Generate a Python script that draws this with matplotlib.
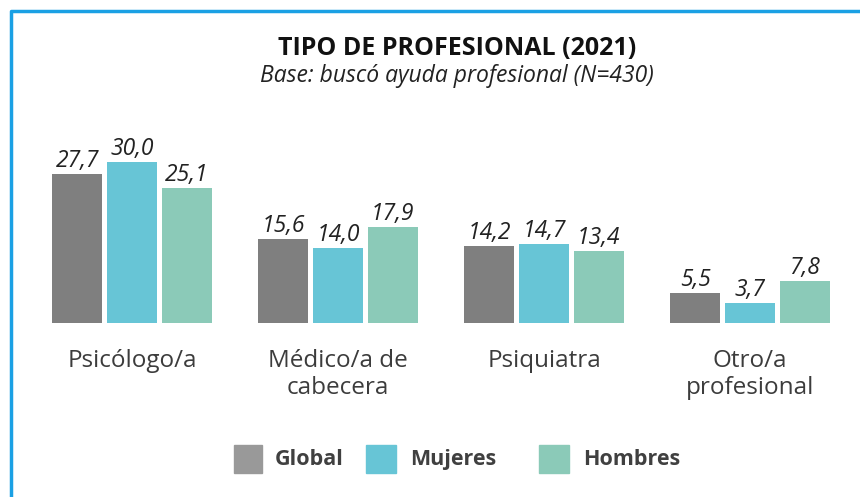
import matplotlib.pyplot as plt
from matplotlib.lines import Line2D
from matplotlib.patches import Rectangle
import numpy as np

categories = ["Psicólogo/a", "Médico/a de\ncabecera", "Psiquiatra", "Otro/a\nprofesional"]
series = ["Global", "Mujeres", "Hombres"]
global_vals = [27.7, 15.6, 14.2, 5.5]
mujeres_vals = [30.0, 14.0, 14.7, 3.7]
hombres_vals = [25.1, 17.9, 13.4, 7.8]

colors = ["#7f7f7f", "#67c5d6", "#8bcab8"]
legend_colors = ["#999999", "#67c5d6", "#8bcab8"]

plt.rcParams["font.family"] = ["Open Sans", "DejaVu Sans"]

W, H = 860, 497
fig = plt.figure(figsize=(W / 100, H / 100), dpi=100)
ax = fig.add_axes([0, 0, 1, 1])
ax.set_xlim(-132 / 206, (W - 132) / 206)
pxu = 5.37  # pixels per unit
base = H - 322.7
ax.set_ylim(-base / pxu, (H - base) / pxu)
ax.axis("off")

x = np.arange(len(categories))
width = 0.243
offsets = [-0.265, 0, 0.265]
for vals, off, c in zip([global_vals, mujeres_vals, hombres_vals], offsets, colors):
    ax.bar(x + off, vals, width, color=c)
    for xi, v in zip(x, vals):
        ax.text(xi + off, v + 7 / pxu, f"{v:.1f}".replace(".", ","), ha="center", va="baseline",
                fontsize=16.5, style="italic", color="#222222")

# category labels, one text per line so baselines line up
for xi, cat in zip(x, categories):
    for k, line in enumerate(cat.split("\n")):
        ax.text(xi, -(44.5 + 27 * k) / pxu, line, ha="center", va="baseline", fontsize=17.5,
                color="#3c3c3c")

# title
fig.text(457 / W, 1 - 55 / H, "TIPO DE PROFESIONAL (2021)", ha="center", va="baseline",
         fontsize=18, fontweight="bold", color="#111111")
fig.text(457 / W, 1 - 82 / H, "Base: buscó ayuda profesional (N=430)", ha="center", va="baseline",
         fontsize=16.5, style="italic", color="#222222")

# legend
leg = [(234, 262, 275), (366, 396, 410), (539, 569, 583)]
for (x0, x1, tx), name, c in zip(leg, series, legend_colors):
    fig.patches.append(Rectangle((x0 / W, 1 - 473 / H), (x1 - x0) / W, 28 / H,
                                 transform=fig.transFigure, color=c))
    fig.text(tx / W, 1 - 465 / H, name, ha="left", va="baseline", fontsize=15.5,
             fontweight="bold", color="#404040")

# frame
fig.lines.append(Line2D([11 / W, 11 / W, 1], [0, 1 - 11 / H, 1 - 11 / H],
                        transform=fig.transFigure, color="#1aa0e4", linewidth=2.5))

fig.savefig("out.png", dpi=100)
